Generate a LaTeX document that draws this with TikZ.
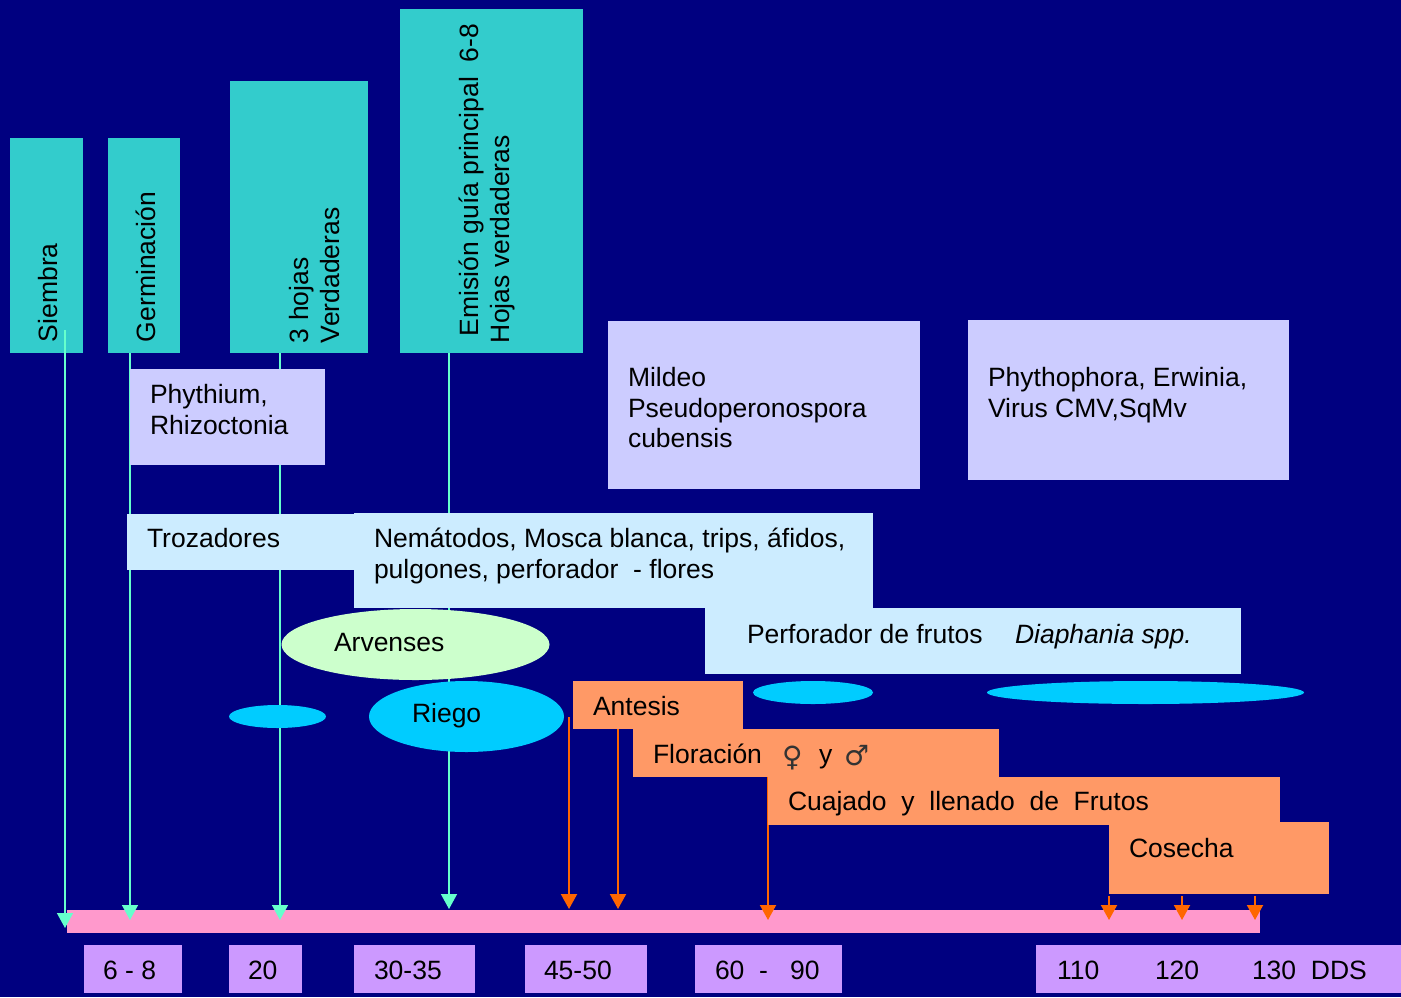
\documentclass[tikz,border=0pt]{standalone}
\usepackage{fontspec}
\setmainfont{Liberation Sans}
\newfontfamily\symfont{DejaVu Sans}
\usetikzlibrary{arrows.meta,shapes.geometric}
\definecolor{bgc}{HTML}{000080}
\definecolor{tealc}{HTML}{33CCCC}
\definecolor{lavc}{HTML}{CCCCFF}
\definecolor{lbluec}{HTML}{CCECFF}
\definecolor{lgreenc}{HTML}{CCFFCC}
\definecolor{cyanc}{HTML}{00CCFF}
\definecolor{orangec}{HTML}{FF9966}
\definecolor{pinkc}{HTML}{FF99CC}
\definecolor{purplec}{HTML}{CC99FF}
\definecolor{linec}{HTML}{66FFCC}
\definecolor{arrowor}{HTML}{FF6600}
\begin{document}
\begin{tikzpicture}[x=1pt,y=-1pt,
  rbox/.style={draw=none, inner sep=0pt, outer sep=0pt, anchor=north west},
  tealbox/.style={rbox, fill=tealc},
  lavbox/.style={rbox, fill=lavc},
  pestbox/.style={rbox, fill=lbluec},
  stagebox/.style={rbox, fill=orangec},
  daybox/.style={rbox, fill=purplec},
  oval/.style={ellipse, draw=none, inner sep=0pt, outer sep=0pt},
  txt/.style={anchor=base west, inner sep=0pt, outer sep=0pt, text=black, font=\fontsize{26.5}{31}\selectfont},
  rtxt/.style={txt, rotate=90},
  symtxt/.style={txt, font=\fontsize{28}{31}\selectfont\symfont, text=black!80},
  tealarrow/.style={draw=linec, line width=1.5pt, -{Triangle[width=16pt,length=15pt]}},
  orarrow/.style={draw=arrowor, line width=2pt, -{Triangle[width=16pt,length=15pt]}},
]
\fill[bgc] (0,0) rectangle (1401,997);
\useasboundingbox (0,0) rectangle (1401,997);

% stage boxes (top)
\node[tealbox, minimum width=73pt, minimum height=215pt] (siembra) at (10,138) {};
\node[tealbox, minimum width=72pt, minimum height=215pt] (germ) at (108,138) {};
\node[tealbox, minimum width=138pt, minimum height=272pt] (hojas) at (230,81) {};
\node[tealbox, minimum width=183pt, minimum height=344pt] (emision) at (400,9) {};
\node[rtxt] (tsiembra) at (57,342) {Siembra};
\node[rtxt] (tgerm) at (155,342) {Germinación};
\node[rtxt] (thojas1) at (308,343) {3 hojas};
\node[rtxt] (thojas2) at (339,343) {Verdaderas};
\node[rtxt] (temis1) at (478,336) {Emisión guía principal\ \ 6-8};
\node[rtxt] (temis2) at (509,343) {Hojas verdaderas};

% time bar
\node[rbox, fill=pinkc, minimum width=1193pt, minimum height=23pt] (bar) at (67,910) {};

% coordinates for connectors
\coordinate (s0) at (65,330);
\coordinate (tS) at (65,928);
\coordinate (tG) at (130,920);
\coordinate (tH) at (280,920);
\coordinate (tE) at (449,909);
\coordinate (o1s) at (569,717);
\coordinate (o1t) at (569,909);
\coordinate (o2t) at (618,909);
\coordinate (o3t) at (768,920);
\coordinate (c1s) at (1109,896);
\coordinate (c1t) at (1109,920);
\coordinate (c2s) at (1182,896);
\coordinate (c2t) at (1182,920);
\coordinate (c3s) at (1255,896);
\coordinate (c3t) at (1255,920);

% stage boxes (bottom, orange) drawn first as anchors
\node[stagebox, minimum width=170pt, minimum height=48pt] (antesis) at (573,681) {};
\node[stagebox, minimum width=366pt, minimum height=48pt] (floracion) at (633,729) {};

% connectors
\draw[tealarrow] (s0) -- (tS);
\draw[tealarrow] (germ.south -| tG) -- (tG);
\draw[tealarrow] (hojas.south -| tH) -- (tH);
\draw[tealarrow] (emision.south -| tE) -- (tE);
\draw[orarrow] (o1s) -- (o1t);
\draw[orarrow] (antesis.south -| o2t) -- (o2t);
\draw[orarrow] (floracion.south -| o3t) -- (o3t);
\draw[orarrow] (c1s) -- (c1t);
\draw[orarrow] (c2s) -- (c2t);
\draw[orarrow] (c3s) -- (c3t);

% disease boxes
\node[lavbox, minimum width=195pt, minimum height=96pt] (phyt) at (130,369) {};
\node[txt] (tphyt1) at (150,403) {Phythium,};
\node[txt] (tphyt2) at (150,434) {Rhizoctonia};
\node[lavbox, minimum width=312pt, minimum height=168pt] (mildeo) at (608,321) {};
\node[txt] (tmil1) at (628,386) {Mildeo};
\node[txt] (tmil2) at (628,417) {Pseudoperonospora};
\node[txt] (tmil3) at (628,447) {cubensis};
\node[lavbox, minimum width=321pt, minimum height=160pt] (phyto) at (968,320) {};
\node[txt] (tphyto1) at (988,386) {Phythophora, Erwinia,};
\node[txt] (tphyto2) at (988,417) {Virus CMV,SqMv};

% pest boxes
\node[pestbox, minimum width=228pt, minimum height=56pt] (troz) at (127,514) {};
\node[txt] (ttroz) at (147,547) {Trozadores};
\node[pestbox, minimum width=519pt, minimum height=95pt] (nema) at (354,513) {};
\node[txt] (tnema1) at (374,547) {Nemátodos, Mosca blanca, trips, áfidos,};
\node[txt] (tnema2) at (374,578) {pulgones, perforador\ \ - flores};
\node[pestbox, minimum width=536pt, minimum height=66pt] (perf) at (705,608) {};
\node[txt] (tperf1) at (747,643) {Perforador de frutos};
\node[txt, font=\fontsize{26.5}{31}\selectfont\itshape] (tperf2) at (1015,643) {Diaphania spp.};

% ellipses
\node[oval, fill=lgreenc, minimum width=268pt, minimum height=71pt] (arv) at (415.5,644.5) {};
\node[txt] (tarv) at (334,651) {Arvenses};
\node[oval, fill=cyanc, minimum width=97pt, minimum height=23pt] (riego0) at (277.5,716.5) {};
\node[oval, fill=cyanc, minimum width=195pt, minimum height=71pt] (riego) at (466.5,716.5) {};
\node[txt] (triego) at (412,722) {Riego};
\node[oval, fill=cyanc, minimum width=120pt, minimum height=23pt] (riego2) at (813,692.5) {};
\node[oval, fill=cyanc, minimum width=317pt, minimum height=23pt] (riego3) at (1145.5,692.5) {};

% stage boxes text and later stages
\node[txt] (tant) at (593,715) {Antesis};
\node[txt] (tflor) at (653,763) {Floración};
\node[symtxt] (tfem) at (782,766) {♀};
\node[txt] (ty) at (819,763) {y};
\node[symtxt] (tmal) at (844,765) {♂};
\node[stagebox, minimum width=512pt, minimum height=48pt] (cuaj) at (768,777) {};
\node[txt] (tcuaj) at (788,810) {Cuajado\ \ y\ \ llenado\ \ de\ \ Frutos};
\node[stagebox, minimum width=220pt, minimum height=72pt] (cos) at (1109,822) {};
\node[txt] (tcos) at (1129,857) {Cosecha};

% day labels
\node[daybox, minimum width=98pt, minimum height=48pt] (d1) at (84,945) {};
\node[txt] (td1) at (103,979) {6 - 8};
\node[daybox, minimum width=73pt, minimum height=48pt] (d2) at (229,945) {};
\node[txt] (td2) at (248,979) {20};
\node[daybox, minimum width=121pt, minimum height=48pt] (d3) at (354,945) {};
\node[txt] (td3) at (374,979) {30-35};
\node[daybox, minimum width=122pt, minimum height=48pt] (d4) at (525,945) {};
\node[txt] (td4) at (544,979) {45-50};
\node[daybox, minimum width=147pt, minimum height=48pt] (d5) at (695,945) {};
\node[txt] (td5) at (715,979) {60\ \ -\ \ \ 90};
\node[daybox, minimum width=365pt, minimum height=48pt] (d6) at (1036,945) {};
\node[txt] (td6a) at (1057,979) {110};
\node[txt] (td6b) at (1155,979) {120};
\node[txt] (td6c) at (1252,979) {130\ \ DDS};
\end{tikzpicture}
\end{document}
